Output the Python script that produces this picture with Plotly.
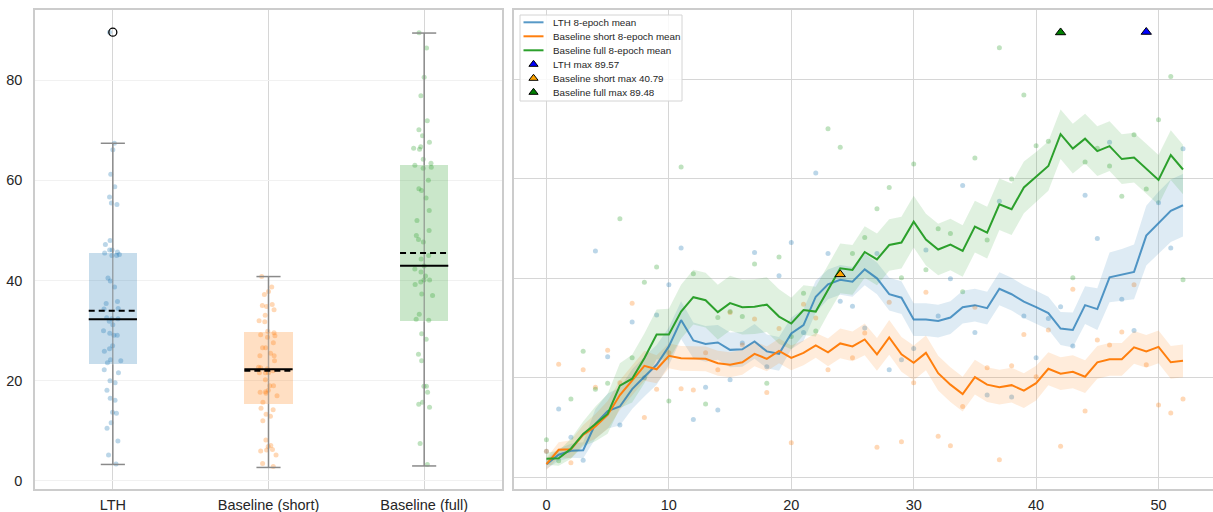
import plotly.graph_objects as go

# ---------------- data ----------------
categories = ["LTH", "Baseline (short)", "Baseline (full)"]
epochs = list(range(53))

lth_raw = [5.2, 13.7, 8.0, 3.4, 45.5, 24.2, 10.5, 31.2, 20.0, 32.6, 38.7, 46.1, 11.6, 18.1, 13.5, 19.6,
           27.0, 45.2, 22.2, 40.5, 47.2, 29.1, 61.2, 45.0, 35.4, 34.4, 30.0, 45.0, 21.6, 23.6, 25.9, 45.7,
           32.4, 39.9, 58.7, 29.1, 16.5, 55.5, 16.1, 32.4, 24.0, 31.9, 34.3, 26.4, 56.7, 48.0, 67.4, 35.8,
           29.5, 89.57, 55.2, 46.1, 66.1]
short_raw = [5.2, 22.7, 2.9, 21.6, 18.1, 25.5, 19.0, 35.0, 12.0, 17.7, 25.0, 17.8, 17.5, 25.0, 21.6, 33.1,
             26.6, 31.8, 17.0, 29.9, 6.9, 34.8, 32.0, 21.6, 40.79, 24.0, 29.0, 6.0, 35.2, 7.1, 19.0, 37.2,
             8.2, 6.3, 14.2, 34.2, 22.0, 3.5, 22.4, 28.7, 20.2, 29.6, 6.2, 37.8, 13.3, 27.6, 26.6, 29.2,
             38.7, 22.6, 14.5, 12.9, 15.7]
full_raw = [7.5, 3.3, 15.7, 25.3, 17.7, 18.9, 52.0, 24.0, 39.2, 42.3, 15.3, 62.4, 40.9, 14.7, 32.1, 33.3,
            32.3, 42.9, 18.9, 44.3, 28.3, 37.0, 29.4, 70.1, 66.4, 45.0, 48.2, 54.0, 58.3, 40.1, 63.0, 41.7,
            50.0, 49.0, 37.3, 64.2, 47.7, 86.4, 60.0, 76.9, 66.7, 67.6, 89.48, 40.1, 63.4, 66.2, 62.6, 56.5,
            68.9, 58.0, 71.9, 80.6, 39.7]

lth_mean8 = [2.6, 4.5, 5.3, 5.4, 10.7, 13.3, 14.2, 17.7, 20.2, 22.6, 26.3, 31.6, 27.5, 26.8, 27.1, 25.6,
             25.7, 27.3, 25.3, 24.8, 28.9, 30.6, 36.3, 38.8, 39.7, 39.3, 41.8, 40.0, 36.8, 36.1, 31.7, 31.7,
             31.4, 32.1, 34.2, 34.6, 34.0, 37.9, 36.8, 35.3, 34.2, 33.0, 29.9, 29.6, 34.6, 33.8, 40.2, 40.7,
             41.3, 48.6, 51.2, 53.6, 54.7]
short_mean8 = [2.6, 5.5, 5.6, 8.5, 10.2, 12.5, 16.5, 19.5, 22.4, 21.7, 24.4, 23.9, 23.8, 23.8, 22.9, 22.6,
               23.1, 24.8, 23.8, 25.4, 24.0, 25.0, 26.5, 25.1, 26.9, 26.3, 27.7, 24.7, 28.1, 24.7, 23.0, 25.0,
               20.9, 18.6, 16.7, 20.1, 18.6, 18.1, 18.5, 17.4, 18.9, 21.8, 20.8, 21.2, 20.2, 23.1, 23.7, 23.7,
               26.1, 25.3, 26.2, 23.1, 23.4]
full_mean8 = [3.7, 3.8, 5.7, 8.7, 10.7, 12.7, 18.4, 19.8, 23.9, 28.7, 28.7, 33.3, 36.2, 35.6, 33.2, 35.0,
              34.2, 34.3, 34.7, 32.3, 30.9, 33.6, 33.3, 37.8, 42.0, 41.7, 45.3, 43.8, 46.7, 47.2, 51.4, 47.8,
              45.8, 46.8, 45.5, 50.4, 49.2, 54.9, 53.9, 58.3, 60.4, 62.6, 69.0, 66.1, 68.1, 65.6, 66.6, 64.0,
              64.3, 62.1, 59.8, 64.8, 61.9]

lth_band = [1.0, 1.2, 1.4, 1.6, 3.0, 3.5, 3.8, 4.0, 4.0, 4.0, 3.8, 3.8, 3.6, 3.6, 3.5, 3.5,
            3.5, 3.5, 3.4, 3.4, 3.2, 3.2, 3.2, 3.0, 3.0, 3.0, 3.2, 3.2, 3.3, 3.3, 3.3, 3.3,
            3.3, 3.3, 3.3, 3.3, 3.3, 3.3, 3.3, 3.3, 3.3, 3.3, 3.3, 3.5, 3.8, 4.2, 5.0, 5.2,
            5.5, 6.0, 6.2, 6.3, 6.3]
short_band = [1.2, 1.5, 1.8, 2.0, 2.5, 2.8, 3.0, 3.0, 3.0, 2.8, 2.5, 2.5, 2.5, 2.5, 2.5, 2.5,
              2.5, 2.5, 2.5, 2.5, 2.5, 2.5, 2.5, 2.8, 3.0, 3.0, 3.2, 3.3, 3.5, 3.5, 3.5, 3.5,
              3.5, 3.5, 3.5, 3.5, 3.5, 3.5, 3.5, 3.5, 3.5, 3.3, 3.3, 3.3, 3.3, 3.3, 3.3, 3.3,
              3.3, 3.3, 3.3, 3.3, 3.3]
full_band = [1.2, 1.5, 2.0, 2.5, 3.5, 4.0, 4.5, 4.8, 5.0, 5.0, 5.2, 5.4, 5.5, 5.5, 5.5, 5.5,
             5.5, 5.5, 5.5, 5.5, 5.2, 5.0, 5.0, 5.0, 5.0, 5.0, 5.2, 5.2, 5.2, 5.2, 5.2, 5.2,
             5.2, 5.2, 5.2, 5.2, 5.2, 5.2, 5.2, 5.2, 5.0, 5.0, 5.0, 5.0, 5.0, 5.0, 5.0, 5.0,
             5.0, 5.0, 5.0, 5.0, 5.0]

# box statistics (LTH, Baseline short, Baseline full)
box_q1 = [23.3, 15.4, 31.9]
box_median = [32.3, 22.3, 42.95]
box_q3 = [45.5, 29.7, 63.0]
box_mean = [34.0, 22.0, 45.5]
box_whislo = [3.3, 2.7, 3.0]
box_whishi = [67.4, 40.8, 89.4]
lth_outliers = [89.57]

max_epochs = [49, 24, 42]
max_values = [89.57, 40.79, 89.48]
max_labels = ["LTH max 89.57", "Baseline short max 40.79", "Baseline full max 89.48"]
line_labels = ["LTH 8-epoch mean", "Baseline short 8-epoch mean", "Baseline full 8-epoch mean"]

# ---------------- styles ----------------
rgb = [(31, 119, 180), (255, 127, 14), (44, 160, 44)]
def rgba(c, a):
    return "rgba(%d,%d,%d,%s)" % (c[0], c[1], c[2], a)

line_colors = [rgba(rgb[0], 0.75), rgba(rgb[1], 1), rgba(rgb[2], 1)]
tri_colors = ["#0000ff", "#ffa500", "#008000"]
FONT = "Liberation Sans, Arial, sans-serif"
W, H = 1213, 512
BOX_W = 0.31
CAP_W = 0.155

raws = [lth_raw, short_raw, full_raw]
means = [lth_mean8, short_mean8, full_mean8]
bands = [lth_band, short_band, full_band]

fig = go.Figure()

# ---------- left panel: boxes ----------
fig.add_trace(go.Bar(
    x=[0, 1, 2], y=[b - a for a, b in zip(box_q1, box_q3)], base=box_q1, width=BOX_W,
    marker=dict(color=[rgba(c, 0.25) for c in rgb], line=dict(width=0)),
    showlegend=False, hoverinfo="skip", xaxis="x", yaxis="y"))

for i, r in enumerate(raws):
    fig.add_trace(go.Box(
        y=r, x0=i, width=BOX_W, boxpoints="all", jitter=0.5, pointpos=0,
        fillcolor="rgba(0,0,0,0)", line=dict(color="rgba(0,0,0,0)", width=0),
        marker=dict(color=rgba(rgb[i], 0.3), size=5),
        showlegend=False, hoverinfo="skip", xaxis="x", yaxis="y"))

wx, wy, ix, iy, cx, cy, mx, my, ax_, ay = [], [], [], [], [], [], [], [], [], []
for i in range(3):
    wx += [i, i, None, i, i, None]
    wy += [box_whislo[i], box_q1[i], None, box_q3[i], box_whishi[i], None]
    ix += [i, i, None]
    iy += [box_q1[i], box_q3[i], None]
    cx += [i - CAP_W / 2, i + CAP_W / 2, None, i - CAP_W / 2, i + CAP_W / 2, None]
    cy += [box_whislo[i], box_whislo[i], None, box_whishi[i], box_whishi[i], None]
    mx += [i - BOX_W / 2, i + BOX_W / 2, None]
    my += [box_median[i], box_median[i], None]
    ax_ += [i - BOX_W / 2, i + BOX_W / 2, None]
    ay += [box_mean[i], box_mean[i], None]
fig.add_trace(go.Scatter(x=ix, y=iy, mode="lines", line=dict(color="rgba(138,138,138,0.6)", width=1.5),
                         showlegend=False, hoverinfo="skip", xaxis="x", yaxis="y"))
fig.add_trace(go.Scatter(x=wx + cx, y=wy + cy, mode="lines", line=dict(color="#8a8a8a", width=1.5),
                         showlegend=False, hoverinfo="skip", xaxis="x", yaxis="y"))
fig.add_trace(go.Scatter(x=mx, y=my, mode="lines", line=dict(color="black", width=2),
                         showlegend=False, hoverinfo="skip", xaxis="x", yaxis="y"))
fig.add_trace(go.Scatter(x=ax_, y=ay, mode="lines", line=dict(color="black", width=2, dash="6px,4px"),
                         showlegend=False, hoverinfo="skip", xaxis="x", yaxis="y"))
fig.add_trace(go.Scatter(x=[0] * len(lth_outliers), y=lth_outliers, mode="markers",
                         marker=dict(symbol="circle-open", color="black", size=8, line=dict(width=1.3)),
                         showlegend=False, hoverinfo="skip", xaxis="x", yaxis="y"))

# ---------- right panel ----------
for i, r in enumerate(raws):
    fig.add_trace(go.Scatter(x=epochs, y=r, mode="markers",
                             marker=dict(color=rgba(rgb[i], 0.3), size=5),
                             showlegend=False, hoverinfo="skip", xaxis="x2", yaxis="y2"))
for i in range(3):
    up = [m + b for m, b in zip(means[i], bands[i])]
    lo = [m - b for m, b in zip(means[i], bands[i])]
    fig.add_trace(go.Scatter(x=epochs + epochs[::-1], y=up + lo[::-1], mode="lines", fill="toself",
                             fillcolor=rgba(rgb[i], 0.15), line=dict(width=0),
                             showlegend=False, hoverinfo="skip", xaxis="x2", yaxis="y2"))
for i in range(3):
    fig.add_trace(go.Scatter(x=epochs, y=means[i], mode="lines", name=line_labels[i],
                             line=dict(color=line_colors[i], width=2), showlegend=False,
                             xaxis="x2", yaxis="y2"))
for i in range(3):
    fig.add_trace(go.Scatter(x=[max_epochs[i]], y=[max_values[i]], mode="markers", name=max_labels[i],
                             marker=dict(symbol="triangle-up", color=tri_colors[i], size=9,
                                         line=dict(color="black", width=1)),
                             showlegend=False, xaxis="x2", yaxis="y2"))

# ---------- compact legend (overlay axes in pixel units of the right panel) ----------
LX0, LX1, LY0, LY1 = 520, 682, 15, 101
ROW0, ROW_STEP = 22.3, 14.0
fig.add_trace(go.Scatter(x=[LX0, LX1, LX1, LX0, LX0], y=[LY0, LY0, LY1, LY1, LY0], mode="lines",
                         fill="toself", fillcolor="rgba(255,255,255,0.85)",
                         line=dict(color="#d4d4d4", width=1), showlegend=False, hoverinfo="skip",
                         xaxis="x3", yaxis="y3"))
legend_names = line_labels + max_labels
for i in range(3):
    yy = ROW0 + i * ROW_STEP
    fig.add_trace(go.Scatter(x=[523.5, 543.5], y=[yy, yy], mode="lines",
                             line=dict(color=line_colors[i], width=2), showlegend=False,
                             hoverinfo="skip", xaxis="x3", yaxis="y3"))
for i in range(3):
    yy = ROW0 + (i + 3) * ROW_STEP
    fig.add_trace(go.Scatter(x=[533.5], y=[yy], mode="markers",
                             marker=dict(symbol="triangle-up", color=tri_colors[i], size=8,
                                         line=dict(color="black", width=1)),
                             showlegend=False, hoverinfo="skip", xaxis="x3", yaxis="y3"))
annotations = []
for k, name in enumerate(legend_names):
    annotations.append(dict(x=550.5, y=ROW0 + k * ROW_STEP, xref="x3", yref="y3", text=name,
                            showarrow=False, xanchor="left", yanchor="middle",
                            font=dict(family=FONT, size=9.8, color="#262626")))

y_dom = [1 - 489 / H, 1 - 10 / H]
frame = "#cccccc"
grid = "#d6d6d6"
tickfont = dict(family=FONT, size=14.5, color="#262626")

fig.update_layout(
    width=W, height=H, margin=dict(l=0, r=0, t=0, b=0),
    paper_bgcolor="white", plot_bgcolor="white",
    font=dict(family=FONT, color="#262626"),
    showlegend=False, bargap=0,
    annotations=annotations,
    xaxis=dict(domain=[35 / W, 502 / W], range=[-0.5, 2.5], tickvals=[0, 1, 2], ticktext=categories,
               showgrid=True, gridcolor=grid, gridwidth=1.2, zeroline=False,
               showline=True, linecolor=frame, linewidth=1.5, mirror=True,
               ticks="", tickfont=tickfont, ticklabelstandoff=2, automargin=False),
    yaxis=dict(domain=y_dom, range=[-1.6, 94], tickvals=[0, 20, 40, 60, 80],
               showgrid=True, gridcolor="#f1f1f1", gridwidth=1, zeroline=False,
               showline=True, linecolor=frame, linewidth=1.5, mirror=True,
               ticks="", tickfont=tickfont, ticklabelstandoff=8, automargin=False),
    xaxis2=dict(domain=[514 / W, 1.0], range=[-2.65, 54.45], anchor="y2", tickvals=[0, 10, 20, 30, 40, 50],
                showgrid=True, gridcolor=grid, gridwidth=1.2, zeroline=False,
                showline=True, linecolor=frame, linewidth=1.5, mirror=True,
                ticks="", tickfont=tickfont, ticklabelstandoff=2, automargin=False),
    yaxis2=dict(domain=y_dom, range=[-2.4, 94], anchor="x2", tickvals=[0, 20, 40, 60, 80],
                showticklabels=False,
                showgrid=True, gridcolor=grid, gridwidth=1.2, zeroline=False,
                showline=True, linecolor=frame, linewidth=1.5, mirror=False,
                ticks="", automargin=False),
    xaxis3=dict(overlaying="x2", anchor="y3", range=[514, 1213], visible=False, showgrid=False,
                zeroline=False, fixedrange=True),
    yaxis3=dict(overlaying="y2", anchor="x3", range=[489, 10], visible=False, showgrid=False,
                zeroline=False, fixedrange=True),
)

fig.write_html("out.html")
